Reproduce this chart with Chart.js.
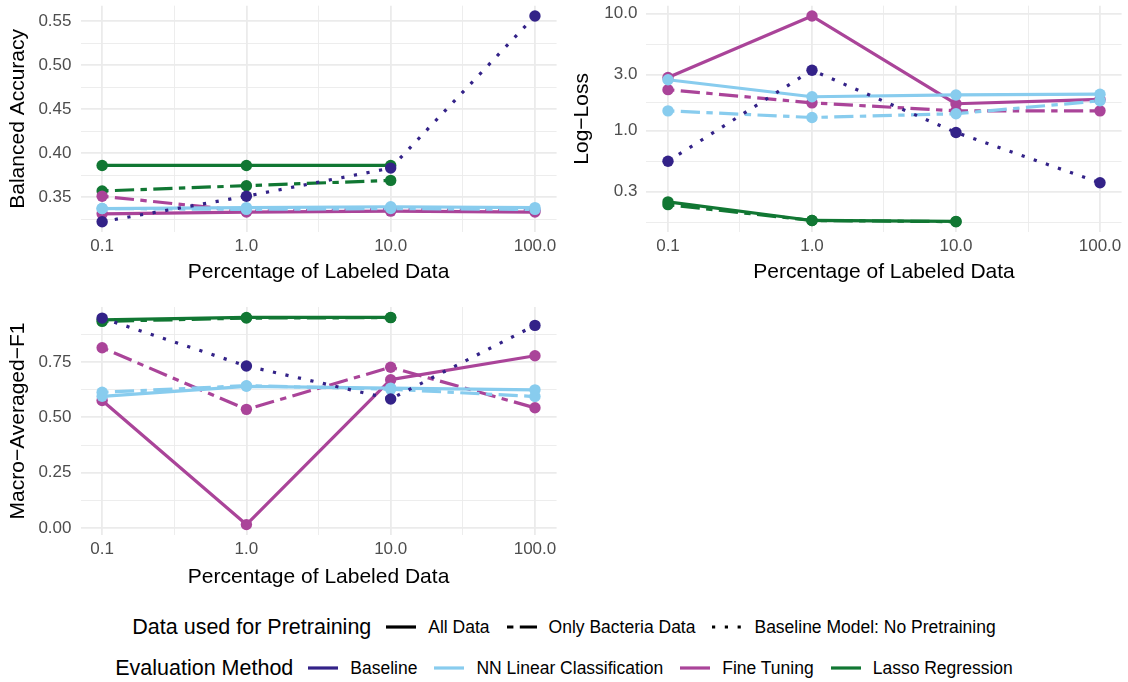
<!DOCTYPE html>
<html lang="en">
<head>
<meta charset="UTF-8" />
<title>Pretraining Evaluation</title>
<script src="https://cdn.jsdelivr.net/npm/chart.js"></script>
<style>
  body {
    margin: 0;
    background: #fff;
    font-family: 'Liberation Sans', Arial, sans-serif;
  }
  .page {
    position: relative;
    width: 1128px;
    height: 682px;
    overflow: hidden;
  }
  .page canvas { position: absolute; }
  .legend-row {
    position: absolute;
    left: 0;
    width: 1128px;
    height: 30px;
    display: flex;
    justify-content: center;
    align-items: center;
    color: #000;
  }
  .legend-title { font-size: 21.5px; margin-right: 15px; }
  .legend-row svg { margin-right: 12px; }
  .legend-label { font-size: 17.5px; margin-right: 17px; }
  .legend-label:last-child { margin-right: 0; }
</style>
</head>
<body>
<div class="page">
  <canvas id="accChart" width="564" height="290" style="left:0;top:0"></canvas>
  <canvas id="lossChart" width="564" height="290" style="left:564px;top:0"></canvas>
  <canvas id="f1Chart" width="564" height="300" style="left:0;top:292px"></canvas>
  <div class="legend-row" id="pretrainLegend" style="top:612px"></div>
  <div class="legend-row" id="methodLegend" style="top:653px"></div>
</div>

<script>
  // x positions: percentage of labeled data
  const pctLabeled = [0.1, 1, 10, 100];
  const xTicks = [0.1, 1, 10, 100];
  const xTickLabels = ['0.1', '1.0', '10.0', '100.0'];

  const methods = ['Baseline', 'NN Linear Classification', 'Fine Tuning', 'Lasso Regression'];
  const pretraining = ['All Data', 'Only Bacteria Data', 'Baseline Model: No Pretraining'];

  // Balanced accuracy
  const accBaseline = [0.322, 0.351, 0.383, 0.556];
  const accNNAll = [0.337, 0.338, 0.339, 0.338];
  const accNNBacteria = [0.337, 0.336, 0.337, 0.336];
  const accFTAll = [0.331, 0.333, 0.334, 0.333];
  const accFTBacteria = [0.351, 0.334, 0.336, 0.335];
  const accLassoAll = [0.386, 0.386, 0.386, null];
  const accLassoBacteria = [0.357, 0.363, 0.369, null];
  const accTicks = [0.35, 0.40, 0.45, 0.50, 0.55];
  const accTickLabels = ['0.35', '0.40', '0.45', '0.50', '0.55'];

  // Log-loss
  const lossBaseline = [0.545, 3.27, 0.96, 0.357];
  const lossNNAll = [2.71, 1.94, 2.01, 2.04];
  const lossNNBacteria = [1.47, 1.29, 1.39, 1.79];
  const lossFTAll = [2.83, 9.5, 1.69, 1.84];
  const lossFTBacteria = [2.23, 1.72, 1.47, 1.47];
  const lossLassoAll = [0.245, 0.170, 0.167, null];
  const lossLassoBacteria = [0.232, 0.170, 0.166, null];
  const lossTicks = [0.3, 1, 3, 10];
  const lossTickLabels = ['0.3', '1.0', '3.0', '10.0'];

  // Macro-averaged F1
  const f1Baseline = [0.948, 0.732, 0.583, 0.915];
  const f1NNAll = [0.595, 0.640, 0.632, 0.624];
  const f1NNBacteria = [0.613, 0.643, 0.627, 0.594];
  const f1FTAll = [0.576, 0.016, 0.670, 0.778];
  const f1FTBacteria = [0.814, 0.536, 0.726, 0.543];
  const f1LassoAll = [0.940, 0.951, 0.951, null];
  const f1LassoBacteria = [0.933, 0.948, 0.950, null];
  const f1Ticks = [0, 0.25, 0.5, 0.75];
  const f1TickLabels = ['0.00', '0.25', '0.50', '0.75'];

  // styles
  const methodColors = ['#332288', '#88CCEE', '#AA4499', '#117733'];
  const pointOrder = [0, 1, 2, 3];
  const LW = 3.2;
  const dashes = [[], [2 * LW, 2 * LW, 6 * LW, 2 * LW], [LW, 3 * LW]];
  const FONT = "'Liberation Sans', Arial, sans-serif";

  // [method, pretraining, values]
  function panelSeries(base, nnAll, nnBac, ftAll, ftBac, laAll, laBac) {
    return [
      [0, 2, base], [1, 0, nnAll], [1, 1, nnBac],
      [2, 0, ftAll], [2, 1, ftBac], [3, 0, laAll], [3, 1, laBac]
    ];
  }

  function toPoints(values) {
    const pts = [];
    values.forEach((v, i) => { if (v !== null) pts.push({ x: pctLabeled[i], y: v }); });
    return pts;
  }

  // minor breaks sit halfway between majors (in log space for log axes)
  function withMinor(major, isLog, min, max) {
    const out = major.slice();
    const f = isLog ? Math.log10 : (v => v);
    const g = isLog ? (v => Math.pow(10, v)) : (v => v);
    const t = major.map(f);
    for (let i = 0; i < t.length - 1; i++) out.push(g((t[i] + t[i + 1]) / 2));
    out.push(g(t[0] - (t[1] - t[0]) / 2));
    out.push(g(t[t.length - 1] + (t[t.length - 1] - t[t.length - 2]) / 2));
    return out.filter(v => v >= min && v <= max).sort((a, b) => a - b);
  }

  function findMajor(v, major) {
    return major.findIndex(m => Math.abs(m - v) < 1e-9 * Math.max(1, Math.abs(m)));
  }

  function axis(type, min, max, major, labels, title, size, isX, titlePad) {
    const all = withMinor(major, type === 'logarithmic', min, max);
    return {
      type: type,
      min: min,
      max: max,
      afterBuildTicks: s => { s.ticks = all.map(v => ({ value: v })); },
      afterFit: s => {
        if (isX) { s.height = size; s.paddingLeft = 0; s.paddingRight = 0; }
        else { s.width = size; s.paddingTop = 0; s.paddingBottom = 0; }
      },
      ticks: {
        autoSkip: false,
        maxRotation: 0,
        padding: isX ? 4 : 9,
        color: '#4d4d4d',
        font: { family: FONT, size: 17 },
        callback: v => { const k = findMajor(v, major); return k < 0 ? '' : labels[k]; }
      },
      grid: {
        drawTicks: false,
        color: '#ebebeb',
        lineWidth: ctx => (ctx.tick && findMajor(ctx.tick.value, major) >= 0) ? 1.8 : 0.9
      },
      border: { display: false },
      title: {
        display: true,
        text: title,
        color: '#000',
        font: { family: FONT, size: 21 },
        padding: isX ? { top: 0, bottom: titlePad } : { top: titlePad, bottom: 0 }
      }
    };
  }

  function drawPanel(id, series, yType, yMin, yMax, yMajor, yLabels, yTitle, box) {
    const lines = series.map(([m, p, vals], i) => ({
      data: toPoints(vals),
      borderColor: methodColors[m],
      borderWidth: LW,
      borderDash: dashes[p],
      borderCapStyle: 'butt',
      borderJoinStyle: 'round',
      pointRadius: 0,
      tension: 0,
      fill: false,
      clip: false,
      order: 10 + i
    }));
    const points = series.map(([m, p, vals]) => ({
      data: toPoints(vals),
      showLine: false,
      pointRadius: 5.7,
      pointBorderWidth: 0,
      pointBackgroundColor: methodColors[m],
      pointBorderColor: methodColors[m],
      clip: false,
      order: pointOrder[m]
    }));
    new Chart(document.getElementById(id), {
      type: 'line',
      data: { datasets: lines.concat(points) },
      options: {
        responsive: false,
        animation: false,
        events: [],
        layout: { padding: { left: 0, top: box.top, right: box.right, bottom: 0 } },
        plugins: { legend: { display: false }, tooltip: { enabled: false } },
        scales: {
          x: axis('logarithmic', 0.0708, 141.25, xTicks, xTickLabels,
                  'Percentage of Labeled Data', box.xh, true, box.xpad),
          y: axis(yType, yMin, yMax, yMajor, yLabels, yTitle, box.yw, false, 5.4)
        }
      }
    });
  }

  drawPanel('accChart',
    panelSeries(accBaseline, accNNAll, accNNBacteria, accFTAll, accFTBacteria, accLassoAll, accLassoBacteria),
    'linear', 0.3103, 0.5677, accTicks, accTickLabels, 'Balanced Accuracy',
    { top: 2.7, right: 7.4, xh: 58, yw: 80.5, xpad: 5 });

  drawPanel('lossChart',
    panelSeries(lossBaseline, lossNNAll, lossNNBacteria, lossFTAll, lossFTBacteria, lossLassoAll, lossLassoBacteria),
    'logarithmic', 0.1355, 11.64, lossTicks, lossTickLabels, 'Log\u2212Loss',
    { top: 2.7, right: 6.4, xh: 58, yw: 82.4, xpad: 5 });

  drawPanel('f1Chart',
    panelSeries(f1Baseline, f1NNAll, f1NNBacteria, f1FTAll, f1FTBacteria, f1LassoAll, f1LassoBacteria),
    'linear', -0.031, 0.998, f1Ticks, f1TickLabels, 'Macro\u2212Averaged\u2212F1',
    { top: 15, right: 7.4, xh: 57, yw: 80.5, xpad: 2 });

  // legends
  function keySvg(color, dash) {
    const ns = 'http://www.w3.org/2000/svg';
    const svg = document.createElementNS(ns, 'svg');
    svg.setAttribute('width', '30');
    svg.setAttribute('height', '10');
    const ln = document.createElementNS(ns, 'line');
    ln.setAttribute('x1', '0'); ln.setAttribute('x2', '30');
    ln.setAttribute('y1', '5'); ln.setAttribute('y2', '5');
    ln.setAttribute('stroke', color);
    ln.setAttribute('stroke-width', LW);
    if (dash.length) ln.setAttribute('stroke-dasharray', dash.join(' '));
    svg.appendChild(ln);
    return svg;
  }

  function buildLegend(id, title, labels, colorOf, dashOf) {
    const row = document.getElementById(id);
    const t = document.createElement('span');
    t.className = 'legend-title';
    t.textContent = title;
    row.appendChild(t);
    labels.forEach((lab, i) => {
      row.appendChild(keySvg(colorOf(i), dashOf(i)));
      const s = document.createElement('span');
      s.className = 'legend-label';
      s.textContent = lab;
      row.appendChild(s);
    });
  }

  buildLegend('pretrainLegend', 'Data used for Pretraining', pretraining, () => '#000', i => dashes[i]);
  buildLegend('methodLegend', 'Evaluation Method', methods, i => methodColors[i], () => []);
</script>
</body>
</html>
